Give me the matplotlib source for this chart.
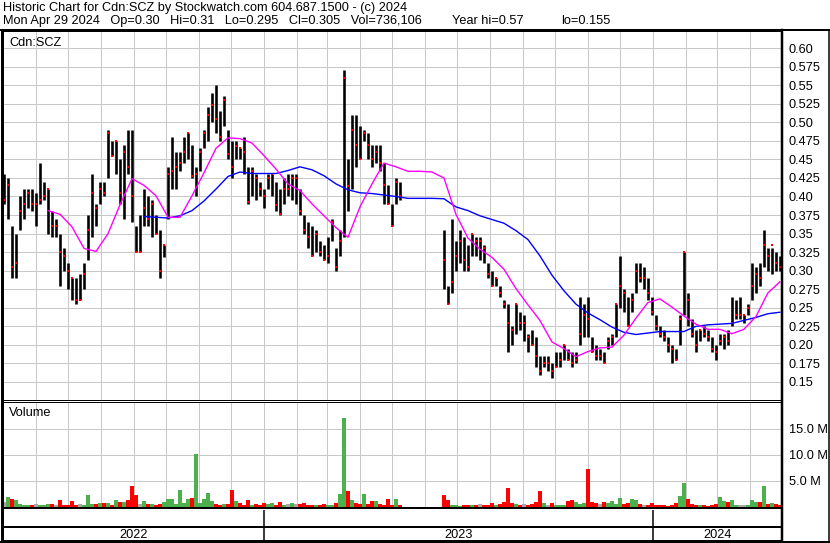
import matplotlib
matplotlib.use("Agg")
import matplotlib.pyplot as plt
import matplotlib.dates as mdates
from matplotlib.lines import Line2D
import numpy as np
import pandas as pd

plt.rcParams['font.family'] = ['Liberation Sans', 'DejaVu Sans']

W, H = 830, 543
nan = float('nan')

title_line1 = "Historic Chart for Cdn:SCZ by Stockwatch.com 604.687.1500 - (c) 2024"
title_line2 = "Mon Apr 29 2024   Op=0.30   Hi=0.31   Lo=0.295   Cl=0.305   Vol=736,106"
title_year_hi = "Year hi=0.57"
title_year_lo = "lo=0.155"
symbol = "Cdn:SCZ"
years = ["2022", "2023", "2024"]

# price bars sampled across the chart (one every ~2.5 trading days), trading halt = nan
highs = [
    0.43, 0.425, 0.36, 0.35, 0.40, 0.41, 0.41, 0.41, 0.405, 0.445,
    0.42, 0.41, 0.38, 0.37, 0.35, 0.33, 0.31, 0.29, 0.29, 0.295,
    0.31, 0.375, 0.43, 0.39, 0.42, 0.42, 0.49, 0.475, 0.475, 0.45,
    0.47, 0.49, 0.49, 0.36, 0.375, 0.41, 0.40, 0.395, 0.375, 0.355,
    0.335, 0.44, 0.48, 0.46, 0.46, 0.48, 0.485, 0.47, 0.44, 0.465,
    0.49, 0.52, 0.54, 0.55, 0.515, 0.535, 0.49, 0.475, 0.475, 0.465,
    0.48, 0.44, 0.44, 0.43, 0.42, 0.41, 0.43, 0.43, 0.42, 0.41,
    0.425, 0.43, 0.43, 0.43, 0.41, 0.375, 0.365, 0.36, 0.355, 0.34,
    0.335, 0.345, 0.37, 0.33, 0.355, 0.57, 0.45, 0.51, 0.51, 0.495,
    0.49, 0.485, 0.47, 0.47, 0.47, 0.445, 0.415, 0.39, 0.425, 0.42,
    nan, nan, nan, nan, nan, nan, nan, nan, nan, nan,
    0.355, 0.28, 0.37, 0.34, 0.355, 0.345, 0.335, 0.35, 0.345, 0.345,
    0.335, 0.31, 0.30, 0.29, 0.28, 0.26, 0.255, 0.225, 0.255, 0.245,
    0.24, 0.215, 0.22, 0.21, 0.185, 0.185, 0.185, 0.175, 0.19, 0.19,
    0.20, 0.195, 0.19, 0.19, 0.265, 0.255, 0.265, 0.21, 0.20, 0.195,
    0.19, 0.21, 0.215, 0.255, 0.32, 0.275, 0.265, 0.27, 0.31, 0.31,
    0.305, 0.29, 0.265, 0.24, 0.225, 0.22, 0.21, 0.20, 0.195, 0.24,
    0.325, 0.27, 0.235, 0.22, 0.22, 0.225, 0.22, 0.21, 0.20, 0.215,
    0.215, 0.22, 0.265, 0.26, 0.265, 0.24, 0.255, 0.31, 0.305, 0.31,
    0.355, 0.33, 0.33, 0.325, 0.32,
]
lows = [
    0.39, 0.37, 0.29, 0.29, 0.355, 0.37, 0.385, 0.38, 0.36, 0.39,
    0.395, 0.35, 0.345, 0.345, 0.28, 0.30, 0.275, 0.26, 0.255, 0.26,
    0.275, 0.315, 0.345, 0.36, 0.39, 0.40, 0.425, 0.455, 0.43, 0.39,
    0.37, 0.43, 0.365, 0.325, 0.325, 0.36, 0.36, 0.345, 0.35, 0.29,
    0.318, 0.37, 0.41, 0.41, 0.435, 0.445, 0.45, 0.425, 0.40, 0.435,
    0.465, 0.475, 0.50, 0.485, 0.475, 0.495, 0.45, 0.425, 0.45, 0.45,
    0.43, 0.39, 0.40, 0.395, 0.40, 0.385, 0.41, 0.40, 0.38, 0.375,
    0.39, 0.40, 0.395, 0.39, 0.375, 0.35, 0.33, 0.32, 0.325, 0.32,
    0.315, 0.31, 0.34, 0.30, 0.32, 0.345, 0.38, 0.41, 0.44, 0.45,
    0.475, 0.45, 0.44, 0.445, 0.435, 0.39, 0.39, 0.36, 0.39, 0.395,
    nan, nan, nan, nan, nan, nan, nan, nan, nan, nan,
    0.275, 0.255, 0.27, 0.30, 0.31, 0.30, 0.30, 0.32, 0.32, 0.315,
    0.31, 0.29, 0.28, 0.28, 0.265, 0.25, 0.19, 0.20, 0.215, 0.22,
    0.205, 0.19, 0.20, 0.17, 0.16, 0.17, 0.165, 0.155, 0.17, 0.17,
    0.18, 0.18, 0.17, 0.175, 0.20, 0.21, 0.21, 0.19, 0.18, 0.18,
    0.175, 0.195, 0.20, 0.21, 0.25, 0.245, 0.225, 0.245, 0.27, 0.285,
    0.275, 0.26, 0.24, 0.22, 0.21, 0.205, 0.19, 0.175, 0.18, 0.20,
    0.24, 0.225, 0.21, 0.19, 0.205, 0.21, 0.205, 0.19, 0.18, 0.20,
    0.195, 0.20, 0.225, 0.235, 0.235, 0.23, 0.24, 0.26, 0.27, 0.28,
    0.305, 0.30, 0.295, 0.30, 0.30,
]
closes = [
    0.395, 0.415, 0.305, 0.31, 0.38, 0.39, 0.405, 0.39, 0.39, 0.395,
    0.40, 0.41, 0.36, 0.36, 0.325, 0.32, 0.30, 0.29, 0.26, 0.26,
    0.295, 0.355, 0.405, 0.385, 0.41, 0.405, 0.485, 0.455, 0.475, 0.405,
    0.46, 0.44, 0.40, 0.325, 0.325, 0.385, 0.37, 0.39, 0.35, 0.30,
    0.335, 0.43, 0.435, 0.44, 0.445, 0.46, 0.485, 0.427, 0.43, 0.46,
    0.485, 0.51, 0.523, 0.505, 0.48, 0.53, 0.457, 0.44, 0.468, 0.465,
    0.46, 0.393, 0.435, 0.425, 0.41, 0.40, 0.425, 0.43, 0.388, 0.376,
    0.41, 0.41, 0.425, 0.425, 0.38, 0.355, 0.345, 0.32, 0.35, 0.325,
    0.315, 0.32, 0.365, 0.305, 0.34, 0.56, 0.414, 0.49, 0.47, 0.45,
    0.485, 0.47, 0.45, 0.46, 0.445, 0.415, 0.39, 0.36, 0.42, 0.40,
    nan, nan, nan, nan, nan, nan, nan, nan, nan, nan,
    0.315, 0.255, 0.285, 0.32, 0.34, 0.314, 0.305, 0.35, 0.34, 0.34,
    0.33, 0.295, 0.28, 0.29, 0.27, 0.255, 0.23, 0.22, 0.255, 0.23,
    0.23, 0.21, 0.20, 0.185, 0.165, 0.175, 0.175, 0.165, 0.17, 0.18,
    0.20, 0.18, 0.175, 0.18, 0.215, 0.24, 0.235, 0.19, 0.185, 0.185,
    0.175, 0.205, 0.21, 0.255, 0.28, 0.27, 0.225, 0.26, 0.30, 0.29,
    0.29, 0.27, 0.245, 0.225, 0.215, 0.21, 0.20, 0.195, 0.18, 0.235,
    0.325, 0.26, 0.215, 0.20, 0.22, 0.215, 0.21, 0.195, 0.19, 0.205,
    0.21, 0.205, 0.23, 0.24, 0.24, 0.24, 0.25, 0.28, 0.295, 0.29,
    0.335, 0.32, 0.335, 0.31, 0.305,
]
volume_m = [
    0.8, 1.9, 1.5, 1.2, 0.4, 0.3, 0.2, 0.3, 0.5, 0.3,
    0.3, 0.5, 0.4, 0.3, 1.2, 0.3, 0.2, 1.0, 0.2, 0.4,
    0.2, 2.3, 0.5, 0.4, 0.6, 0.7, 0.6, 0.3, 1.2, 0.8,
    0.9, 1.2, 3.9, 2.3, 0.5, 1.0, 0.4, 0.5, 0.3, 0.4,
    0.8, 1.5, 1.4, 0.5, 3.1, 0.7, 1.4, 1.6, 10.1, 0.7,
    1.5, 2.6, 1.0, 0.5, 0.3, 0.4, 0.5, 3.1, 1.0, 0.6,
    0.3, 1.2, 0.3, 0.4, 0.3, 0.6, 0.5, 0.6, 0.3, 0.9,
    0.3, 0.4, 0.6, 0.5, 0.5, 0.6, 0.3, 0.2, 0.3, 0.2,
    0.4, 0.3, 0.2, 0.6, 2.5, 17.0, 2.9, 1.2, 0.6, 0.4,
    2.5, 0.5, 1.0, 1.0, 0.4, 0.3, 1.4, 0.3, 1.4, 0.3,
    nan, nan, nan, nan, nan, nan, nan, nan, nan, nan,
    2.3, 1.2, 0.3, 0.2, 0.1, 0.3, 0.2, 0.2, 0.3, 0.4,
    0.2, 0.3, 0.6, 0.2, 0.4, 0.8, 3.5, 0.6, 0.5, 0.3,
    0.4, 0.3, 0.5, 0.8, 2.9, 0.6, 0.3, 0.6, 0.3, 0.2,
    0.2, 1.0, 1.2, 0.8, 0.5, 0.6, 7.2, 0.9, 0.6, 0.4,
    0.8, 0.6, 1.1, 0.5, 1.7, 0.5, 0.6, 1.5, 1.3, 0.4,
    0.3, 0.2, 0.6, 0.2, 0.2, 0.3, 0.1, 0.2, 0.6, 2.1,
    4.6, 1.5, 0.4, 0.3, 0.2, 0.2, 0.1, 0.3, 0.5, 1.9,
    1.0, 0.8, 1.2, 0.3, 0.2, 0.2, 0.3, 1.2, 0.8, 0.9,
    3.9, 0.5, 0.6, 0.4, 0.2,
]

# moving averages, every 3rd bar (short from bar 11, long from bar 35)
ma_short = [
    0.381, 0.376, 0.359, 0.330, 0.326, 0.350, 0.389, 0.424, 0.415, 0.401,
    0.372, 0.372, 0.401, 0.432, 0.465, 0.479, 0.478, 0.472, 0.455, 0.437,
    0.417, 0.408, 0.390, 0.374, 0.358, 0.345, 0.386, 0.417, 0.445, 0.440,
    0.434, 0.434, 0.433, 0.425, 0.376, 0.344, 0.329, 0.318, 0.302, 0.276,
    0.254, 0.233, 0.204, 0.195, 0.184, 0.191, 0.196, 0.197, 0.213, 0.236,
    0.257, 0.262, 0.251, 0.239, 0.228, 0.221, 0.221, 0.215, 0.221, 0.238,
    0.270, 0.285,
]
ma_long = [
    0.373, 0.372, 0.371, 0.374, 0.381, 0.394, 0.410, 0.427, 0.433, 0.431,
    0.431, 0.431, 0.435, 0.440, 0.436, 0.428, 0.417, 0.409, 0.405, 0.404,
    0.402, 0.400, 0.3975, 0.3975, 0.3975, 0.397, 0.386, 0.381, 0.374, 0.369,
    0.364, 0.354, 0.342, 0.320, 0.294, 0.273, 0.255, 0.243, 0.234, 0.224,
    0.217, 0.214, 0.216, 0.218, 0.218, 0.218, 0.225, 0.227, 0.228, 0.229,
    0.233, 0.237, 0.242, 0.244,
]

price_ticks = [0.15, 0.175, 0.20, 0.225, 0.25, 0.275, 0.30, 0.325, 0.35, 0.375,
               0.40, 0.425, 0.45, 0.475, 0.50, 0.525, 0.55, 0.575, 0.60]
vol_ticks = [5, 10, 15]

dates = pd.date_range("2022-05-02", "2024-04-29", periods=len(closes))
close_s = pd.Series(closes, index=dates)
traded = close_s.dropna()
chg = traded.diff().reindex(dates)
vol_colors = ['#4cb04c' if c > 0 else ('#ff0000' if c < 0 else '#a8a8a8') for c in chg]

# ---- layout in pixels ----
def fx(x):
    return x / W

def fy(y):
    return 1 - y / H

def ax_rect(x0, y0, x1, y1):
    return [fx(x0), fy(y1), fx(x1) - fx(x0), fy(y0) - fy(y1)]

PX = 0.72  # 1 px in points
FS = 9.2
x_start = pd.Timestamp("2022-05-01")
x_end = pd.Timestamp("2024-05-01")
grid_c = '#c8c8c8'

fig = plt.figure(figsize=(W / 100, H / 100), dpi=100)
fig.patch.set_facecolor('white')

ax = fig.add_axes(ax_rect(3, 31, 782, 400))
axv = fig.add_axes(ax_rect(3, 402, 782, 508))
axy = fig.add_axes(ax_rect(3, 510, 782, 541))

p_per_px = 0.025 / 18.55
ax.set_ylim(0.15 - (400 - 382) * p_per_px, 0.15 + (382 - 31) * p_per_px)
v_per_px = 5 / 25.9
axv.set_ylim(-(508 - 506.5) * v_per_px, (506.5 - 402) * v_per_px)

for a in (ax, axv, axy):
    a.set_xlim(x_start, x_end)
    for s in a.spines.values():
        s.set_color('black')
    a.spines['left'].set_visible(False)
    a.spines['right'].set_visible(False)

axy.set_xticks([])
axy.set_yticks([])

ax.yaxis.tick_right()
axv.yaxis.tick_right()
ax.set_yticks(price_ticks)
ax.set_yticklabels([f"{v:.3f}" if round(v * 1000) % 10 else f"{v:.2f}" for v in price_ticks])
axv.set_yticks(vol_ticks)
axv.set_yticklabels([f"{v:.1f} M" for v in vol_ticks])
for a in (ax, axv):
    a.xaxis.set_major_locator(mdates.MonthLocator())
    a.tick_params(axis='x', length=0, labelbottom=False)
    a.tick_params(axis='y', length=0, labelright=True, pad=5, labelsize=FS, colors='black')
    a.set_axisbelow(True)
    a.grid(True, color=grid_c, linewidth=PX, antialiased=False)

# price bars
ax.vlines(dates, lows, highs, color='black', linewidth=2.6 * PX, zorder=3)
ax.plot(dates, closes, 's', color='red', markersize=2.6 * PX, markeredgewidth=0, zorder=4)
ax.plot(dates[35::3], ma_long, color='#0000ff', linewidth=1.0, zorder=5)
ax.plot(dates[11::3], ma_short, color='#ff00ff', linewidth=1.0, zorder=5)

# volume
axv.bar(dates, volume_m, width=3.1, color=vol_colors, linewidth=0, zorder=3)

ax.spines['top'].set_linewidth(2 * PX)
ax.spines['bottom'].set_linewidth(PX)
axv.spines['top'].set_linewidth(PX)
axv.spines['bottom'].set_linewidth(2 * PX)
axy.spines['top'].set_visible(False)
axy.spines['bottom'].set_linewidth(2 * PX)
axy.axhline(1 - (527 - 510) / 31, color='black', linewidth=2 * PX)

year_starts = [x_start] + [pd.Timestamp(f"{y}-01-01") for y in years[1:]] + [x_end]
for d in year_starts[1:-1]:
    axy.axvline(d, color='black', linewidth=1.5 * PX)
for i, y in enumerate(years):
    mid = year_starts[i] + (year_starts[i + 1] - year_starts[i]) / 2
    axy.text(mid, (541 - 534.5) / 31, y, ha='center', va='center', fontsize=FS)

ax.text(0.008, 0.985, symbol, transform=ax.transAxes, fontsize=FS, va='top', zorder=6)
axv.text(0.008, 0.95, "Volume", transform=axv.transAxes, fontsize=FS, va='top', zorder=6)

fig.text(fx(3), fy(8), title_line1, fontsize=FS, va='center')
fig.text(fx(3), fy(21), title_line2, fontsize=FS, va='center')
fig.text(fx(452), fy(21), title_year_hi, fontsize=FS, va='center')
fig.text(fx(561), fy(21), title_year_lo, fontsize=FS, va='center')

# frame lines
frame = [
    ((0, 830), (30, 30), 2),
    ((1.5, 1.5), (30, 543), 3),
    ((782, 782), (30, 543), 2.5),
    ((828.5, 828.5), (30, 543), 1.5),
    ((0, 830), (542, 542), 2),
]
for xs, ys, lw in frame:
    fig.add_artist(Line2D([fx(v) for v in xs], [fy(v) for v in ys], color='black',
                          linewidth=lw * PX, transform=fig.transFigure))

fig.savefig("out.png", dpi=100)
